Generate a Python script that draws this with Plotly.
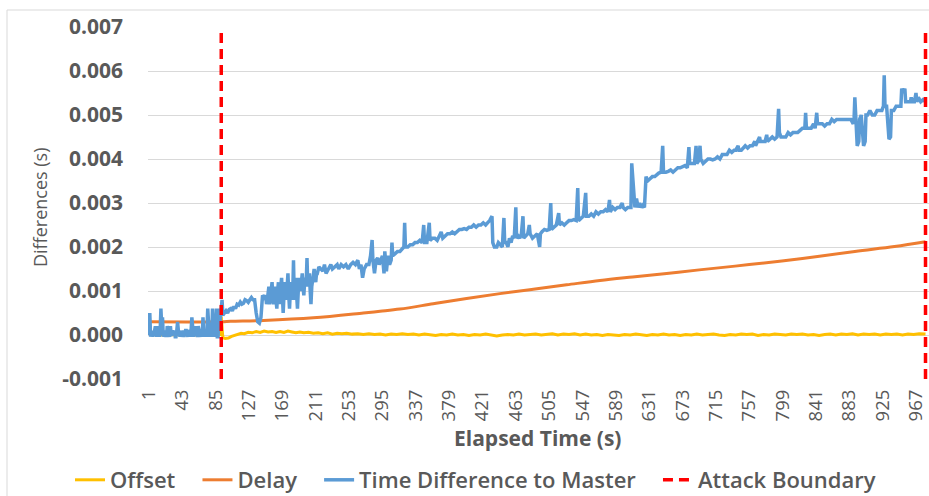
import plotly.graph_objects as go

# Elapsed-time categories shown on the horizontal axis
x_tick_values = [1, 43, 85, 127, 169, 211, 253, 295, 337, 379, 421, 463,
                 505, 547, 589, 631, 673, 715, 757, 799, 841, 883, 925, 967]
x_tick_labels = [str(v) for v in x_tick_values]

y_tick_values = [-0.001, 0.0, 0.001, 0.002, 0.003, 0.004, 0.005, 0.006, 0.007]
y_tick_labels = ["-0.001", "0.000", "0.001", "0.002", "0.003",
                 "0.004", "0.005", "0.006", "0.007"]

# Attack window: start and end sample
attack_bounds = [92, 979]

# Offset (s) per elapsed sample
offset_points = [
    (1, 0.00001), (20, 0.0), (40, 0.00001), (60, 0.0), (80, 0.00001), (91, 0.00001),
    (92, 0.00042), (93, 0.00025), (94, -0.00006), (97, -0.00008), (101, -0.00007),
    (105, -0.00003), (109, -0.00001), (113, 0.00002), (117, 0.00004), (121, 0.00003),
    (126, 0.00006), (131, 0.00005), (136, 0.00008), (141, 0.00006), (146, 0.00009),
    (151, 0.00007), (156, 0.00008), (161, 0.00006), (166, 0.00008), (171, 0.00006),
    (176, 0.00009), (181, 0.00007), (186, 0.00005), (191, 0.00007), (196, 0.00005),
    (202, 0.00006), (208, 0.00004), (214, 0.00005), (220, 0.00003), (226, 0.00005),
    (232, 0.00002), (238, 0.00004), (244, 0.00003), (250, 0.00004), (257, 0.00002),
    (264, 0.00003), (271, 0.00001), (278, 0.00003), (285, 0.00001), (292, 0.00002),
    (299, 0.0), (306, 0.00002), (313, 0.00001), (320, 0.00003), (327, 0.00001),
    (334, 0.00002), (341, 0.0), (348, 0.00002), (355, 0.00001), (362, -0.00001),
    (369, 0.00001), (376, 0.0), (383, 0.00002), (390, 0.0), (397, 0.00001),
    (404, -0.00001), (411, 0.00001), (418, 0.0), (425, 0.00002), (432, 0.0),
    (439, -0.00002), (446, 0.0), (453, 0.00001), (460, 0.0), (467, 0.00002),
    (474, 0.0), (481, 0.00001), (488, 0.00002), (495, 0.0), (502, 0.00001),
    (509, 0.00003), (516, 0.0), (523, 0.00002), (530, 0.00001), (537, 0.00003),
    (544, 0.0), (551, 0.00002), (558, 0.0), (565, 0.00001), (572, -0.00001),
    (579, 0.00001), (586, 0.0), (593, -0.00001), (600, 0.00001), (607, 0.0),
    (614, 0.00002), (621, 0.0), (628, -0.00001), (635, 0.00001), (642, 0.0),
    (649, 0.00002), (656, 0.0), (663, 0.00001), (670, -0.00001), (677, 0.00001),
    (684, 0.0), (691, 0.00002), (698, 0.0), (705, 0.00001), (712, 0.00002),
    (719, 0.0), (726, -0.00001), (733, 0.00001), (740, 0.0), (747, 0.00002),
    (754, 0.00001), (761, 0.00002), (768, -0.00001), (775, 0.00001), (782, 0.0),
    (789, 0.00002), (796, 0.00001), (803, 0.0), (810, 0.00002), (817, 0.00001),
    (824, 0.00002), (831, 0.0), (838, 0.00001), (845, -0.00001), (852, 0.00001),
    (859, 0.00002), (866, 0.0), (873, 0.00002), (880, 0.00001), (887, 0.00003),
    (894, 0.0), (901, 0.00002), (908, 0.00001), (915, 0.00002), (922, 0.0),
    (929, 0.00002), (936, 0.00001), (943, 0.00002), (950, 0.0), (957, 0.00002),
    (964, 0.00001), (971, 0.00003), (979, 0.00002),
]

# Delay (s) per elapsed sample
delay_points = [
    (1, 0.0003), (92, 0.0003), (104, 0.00031), (145, 0.00033), (208, 0.00039),
    (271, 0.0005), (292, 0.00054), (317, 0.00059), (359, 0.00071), (401, 0.00083),
    (443, 0.00094), (485, 0.00104), (527, 0.00114), (569, 0.00124), (610, 0.00132),
    (653, 0.0014), (694, 0.00148), (757, 0.0016), (824, 0.00174), (890, 0.0019),
    (940, 0.00201), (979, 0.00212),
]

# Time difference to master (s) per elapsed sample
time_diff_points = [
    (1, 0.0), (2, 0.0005), (3, -0.00004), (4, 0.00008), (5, -0.00004), (6, 0.0001),
    (7, -0.00002), (8, 0.0001), (9, 0.0002), (10, -0.00004), (11, 0.00008),
    (12, 0.0002), (13, 0.0001), (14, -0.00004), (15, 0.00006), (16, 0.0006),
    (17, 0.0002), (18, 0.0004), (19, -0.00004), (20, 0.00008), (21, 0.0001),
    (22, 0.00002), (23, -0.00004), (24, 0.0002), (25, 0.0001), (26, 0.00008),
    (27, -0.00004), (28, 0.0002), (29, -0.00002), (30, 0.00005), (31, 0.0001),
    (32, 0.00006), (33, 0.0001), (34, -0.00004), (35, -0.00004), (36, 0.0001),
    (37, 0.0003), (38, 0.0001), (39, 0.00008), (40, -0.00004), (41, 0.0001),
    (42, -0.00004), (43, 0.00008), (44, 0.0001), (45, -0.00004), (46, 0.00005),
    (47, 0.0001), (48, 0.0001), (49, -0.00002), (50, -0.00004), (51, 0.00008),
    (52, 0.0001), (53, -0.00004), (54, 0.0001), (55, 0.0004), (56, 0.0001),
    (57, -0.00004), (58, 0.0001), (59, 0.0002), (60, 0.0001), (61, -0.00004),
    (62, -0.00004), (63, 0.0002), (64, 0.0001), (65, 0.00006), (66, -0.00004),
    (67, 0.0001), (68, -0.00004), (69, 0.0004), (70, -0.00004), (71, 0.00008),
    (72, 0.0001), (73, -0.00004), (74, 0.0001), (75, 0.0006), (76, 0.0001),
    (77, -0.00004), (78, 0.00008), (79, 0.0002), (80, -0.00004), (81, 0.0006),
    (82, -0.00004), (83, 0.0001), (84, -0.00004), (85, 0.0003), (86, 0.0006),
    (87, -0.00004), (88, -0.00004), (89, 0.0006), (90, 0.0002), (91, 0.0004),
    (92, 0.0006), (93, 0.0008), (94, 0.00045), (96, 0.0005), (98, 0.00055),
    (100, 0.0005), (102, 0.00058), (104, 0.0006), (106, 0.00055), (108, 0.00065),
    (110, 0.0006), (112, 0.0007), (114, 0.00068), (116, 0.00075), (118, 0.0007),
    (120, 0.00072), (122, 0.0008), (124, 0.00078), (126, 0.00074), (128, 0.0008),
    (130, 0.00085), (132, 0.0008), (134, 0.0008), (136, 0.0005), (138, 0.0003),
    (140, 0.00027), (142, 0.0004), (144, 0.0009), (146, 0.00085), (148, 0.0009),
    (149, 0.0007), (150, 0.0008), (151, 0.001), (152, 0.0011), (153, 0.0007),
    (154, 0.0009), (155, 0.0011), (156, 0.0012), (157, 0.0008), (158, 0.0007),
    (159, 0.001), (160, 0.0011), (161, 0.0008), (162, 0.0006), (163, 0.001),
    (164, 0.0012), (165, 0.0007), (166, 0.0009), (167, 0.0011), (168, 0.0013),
    (169, 0.0009), (170, 0.0005), (171, 0.0009), (172, 0.0012), (173, 0.001),
    (174, 0.0008), (175, 0.0011), (176, 0.0014), (177, 0.0009), (178, 0.0006),
    (179, 0.001), (180, 0.0012), (181, 0.0008), (182, 0.0009), (183, 0.0017),
    (184, 0.0008), (185, 0.0011), (186, 0.0013), (187, 0.0009), (188, 0.0006),
    (189, 0.001), (190, 0.0013), (191, 0.0011), (192, 0.001), (193, 0.0012),
    (194, 0.0014), (195, 0.0011), (196, 0.0009), (197, 0.0012), (198, 0.0013),
    (199, 0.0012), (200, 0.00175), (201, 0.0011), (202, 0.0013), (203, 0.0014),
    (204, 0.001), (205, 0.0007), (206, 0.0011), (207, 0.0013), (208, 0.0014),
    (209, 0.0015), (210, 0.0013), (211, 0.0012), (212, 0.0014), (213, 0.0014),
    (215, 0.00155), (217, 0.0015), (220, 0.00145), (222, 0.0016), (224, 0.0014),
    (227, 0.0015), (230, 0.0016), (232, 0.0015), (235, 0.00155), (238, 0.0016),
    (240, 0.0015), (243, 0.0016), (246, 0.00155), (249, 0.0016), (252, 0.0015),
    (255, 0.0016), (258, 0.00165), (261, 0.0016), (264, 0.0017), (266, 0.0015),
    (268, 0.0016), (270, 0.0013), (272, 0.0015), (275, 0.0016), (278, 0.0016),
    (280, 0.0018), (282, 0.00216), (283, 0.0017), (285, 0.0014), (287, 0.0017),
    (289, 0.00175), (291, 0.0016), (293, 0.0017), (295, 0.0018), (297, 0.0014),
    (298, 0.0019), (300, 0.00145), (302, 0.0018), (304, 0.0016), (306, 0.0017),
    (307, 0.0021), (308, 0.0018), (311, 0.00185), (314, 0.0019), (317, 0.0019),
    (320, 0.00195), (322, 0.002), (323, 0.00255), (324, 0.002), (327, 0.002),
    (330, 0.00205), (333, 0.00205), (336, 0.0021), (339, 0.0021), (342, 0.00215),
    (345, 0.0021), (347, 0.0025), (348, 0.0021), (351, 0.0021), (354, 0.00255),
    (355, 0.00215), (358, 0.0022), (361, 0.0022), (364, 0.00215), (367, 0.00225),
    (369, 0.00234), (371, 0.0022), (374, 0.00225), (377, 0.0023), (380, 0.0023),
    (383, 0.00234), (386, 0.0023), (389, 0.00235), (392, 0.0024), (395, 0.0024),
    (398, 0.00242), (401, 0.0024), (404, 0.00245), (407, 0.00245), (410, 0.0025),
    (413, 0.00245), (416, 0.0025), (419, 0.0025), (422, 0.00255), (425, 0.0025),
    (428, 0.00255), (430, 0.0026), (433, 0.0027), (434, 0.0021), (436, 0.002),
    (439, 0.002), (441, 0.0021), (443, 0.00205), (446, 0.002), (448, 0.00266),
    (449, 0.0021), (451, 0.0021), (453, 0.002), (455, 0.0022), (457, 0.0021),
    (459, 0.00225), (461, 0.0022), (463, 0.0029), (464, 0.0022), (466, 0.00225),
    (468, 0.0022), (470, 0.0023), (472, 0.0027), (473, 0.0022), (475, 0.00225),
    (478, 0.0023), (480, 0.0025), (481, 0.0023), (484, 0.0022), (487, 0.00225),
    (490, 0.0023), (493, 0.002), (494, 0.0023), (496, 0.00235), (499, 0.0024),
    (502, 0.00238), (505, 0.0024), (507, 0.003), (508, 0.0024), (511, 0.00245),
    (514, 0.0025), (517, 0.00277), (518, 0.0025), (521, 0.00255), (524, 0.0025),
    (527, 0.00255), (530, 0.0026), (533, 0.0026), (536, 0.00262), (539, 0.0026),
    (541, 0.00334), (542, 0.0026), (545, 0.00265), (548, 0.0027), (551, 0.00323),
    (552, 0.0027), (555, 0.0027), (558, 0.00275), (561, 0.0027), (564, 0.0028),
    (567, 0.00275), (570, 0.0028), (573, 0.0028), (576, 0.00285), (579, 0.0028),
    (581, 0.00307), (582, 0.0028), (585, 0.0029), (588, 0.00285), (591, 0.0029),
    (594, 0.0029), (597, 0.003), (598, 0.0029), (601, 0.00285), (604, 0.0029),
    (606, 0.0029), (608, 0.0029), (609, 0.0039), (610, 0.0036), (611, 0.0035),
    (613, 0.0029), (615, 0.0031), (617, 0.0029), (619, 0.003), (621, 0.0029),
    (623, 0.00295), (625, 0.0029), (627, 0.0036), (629, 0.0035), (632, 0.00355),
    (635, 0.0036), (638, 0.0036), (641, 0.00365), (643, 0.00368), (646, 0.0037),
    (648, 0.0043), (649, 0.0037), (652, 0.0037), (655, 0.00372), (658, 0.00375),
    (661, 0.0037), (664, 0.00375), (667, 0.0038), (670, 0.0038), (673, 0.00382),
    (676, 0.00385), (679, 0.0038), (681, 0.00427), (682, 0.0039), (685, 0.0039),
    (688, 0.0039), (690, 0.0043), (691, 0.0039), (693, 0.00395), (695, 0.0043),
    (696, 0.004), (699, 0.0039), (702, 0.00395), (705, 0.004), (708, 0.004),
    (711, 0.00398), (714, 0.004), (717, 0.00405), (720, 0.004), (723, 0.0041),
    (726, 0.0041), (729, 0.0041), (732, 0.0042), (735, 0.00415), (738, 0.0042),
    (740, 0.0042), (743, 0.0043), (744, 0.0042), (747, 0.0042), (750, 0.00425),
    (752, 0.0043), (755, 0.00425), (758, 0.0043), (761, 0.0043), (764, 0.0044),
    (765, 0.0043), (768, 0.0044), (770, 0.0045), (771, 0.0044), (774, 0.0044),
    (777, 0.0044), (779, 0.00455), (780, 0.0044), (783, 0.00445), (786, 0.0045),
    (789, 0.00445), (792, 0.0045), (794, 0.00514), (795, 0.0046), (797, 0.0045),
    (800, 0.0045), (803, 0.0045), (806, 0.0046), (809, 0.00455), (812, 0.0046),
    (815, 0.0046), (818, 0.0046), (821, 0.00465), (824, 0.0047), (827, 0.0047),
    (828, 0.00505), (829, 0.0047), (832, 0.0047), (835, 0.0047), (838, 0.0048),
    (840, 0.0047), (842, 0.00505), (843, 0.0048), (846, 0.0048), (849, 0.0048),
    (852, 0.00475), (855, 0.0048), (858, 0.0048), (861, 0.0049), (864, 0.00485),
    (867, 0.0049), (870, 0.0049), (873, 0.0049), (876, 0.0049), (879, 0.0049),
    (882, 0.0049), (885, 0.0049), (888, 0.0048), (889, 0.0049), (890, 0.0054),
    (891, 0.0049), (893, 0.0043), (895, 0.0044), (896, 0.0049), (898, 0.005),
    (901, 0.0043), (903, 0.0044), (904, 0.005), (906, 0.005), (909, 0.0051),
    (912, 0.005), (915, 0.005), (918, 0.0051), (921, 0.0051), (924, 0.0051),
    (926, 0.0052), (927, 0.0059), (928, 0.0052), (930, 0.0052), (932, 0.0047),
    (933, 0.00445), (935, 0.0045), (936, 0.0051), (939, 0.0051), (942, 0.0052),
    (945, 0.0052), (948, 0.0052), (949, 0.0056), (951, 0.0055), (953, 0.0056),
    (954, 0.0053), (957, 0.0053), (960, 0.0053), (961, 0.0054), (962, 0.0053),
    (965, 0.0053), (967, 0.0055), (968, 0.0053), (970, 0.0054), (973, 0.0053),
    (976, 0.00535), (979, 0.0053),
]

TEXT_GREY = "#595959"
FONT = "Open Sans"
PAD = "\u00a0" * 3  # spacing after each legend entry

fig = go.Figure()

def add_series(points, name, color, width, shape="linear"):
    xs = [p[0] for p in points]
    ys = [p[1] for p in points]
    fig.add_trace(go.Scatter(x=xs, y=ys, mode="lines", name=name + PAD,
                             line=dict(color=color, width=width, shape=shape)))

add_series(offset_points, "Offset", "#FFC000", 3)
add_series(delay_points, "Delay", "#ED7D31", 3, shape="spline")
add_series(time_diff_points, "Time Difference to Master", "#5B9BD5", 3.5)

for i, xb in enumerate(attack_bounds):
    fig.add_trace(go.Scatter(
        x=[xb, xb], y=[y_tick_values[0], y_tick_values[-1]], mode="lines",
        name="Attack Boundary", legendgroup="attack", showlegend=(i == 0),
        line=dict(color="#FF0000", width=3.5, dash="10px,6px")))

fig.update_layout(
    width=929, height=496,
    margin=dict(l=148, r=0, t=27, b=117, autoexpand=False),
    paper_bgcolor="white", plot_bgcolor="white",
    font=dict(family=FONT, color=TEXT_GREY),
    showlegend=True,
    legend=dict(orientation="h", x=(70 - 148) / 781, xanchor="left",
                y=(379 - 480) / 352, yanchor="middle",
                font=dict(size=22, color=TEXT_GREY, family=FONT, weight=600),
                itemwidth=30, tracegroupgap=0, bgcolor="rgba(0,0,0,0)"),
    xaxis=dict(range=[-0.26, 983.4], tickvals=x_tick_values, ticktext=x_tick_labels,
               tickangle=-90, tickfont=dict(size=18.5, color=TEXT_GREY, family=FONT),
               showgrid=False, zeroline=False, showline=False, ticks="",
               ticklabelstandoff=6, automargin=False),
    yaxis=dict(range=[-0.001, 0.007], tickvals=y_tick_values, ticktext=y_tick_labels,
               tickfont=dict(size=21, color=TEXT_GREY, family=FONT, weight="bold"),
               showgrid=True, gridcolor="#D9D9D9", gridwidth=1,
               zeroline=False, showline=False, ticks="", ticklabelstandoff=24,
               automargin=False),
    annotations=[
        dict(text="Elapsed Time (s)", xref="paper", yref="paper",
             x=(537 - 148) / 781, y=(379 - 438) / 352, showarrow=False,
             xanchor="center", yanchor="middle",
             font=dict(size=21, color=TEXT_GREY, family=FONT, weight="bold")),
        dict(text="Differences (s)", xref="paper", yref="paper",
             x=(40 - 148) / 781, y=(379 - 207) / 352, showarrow=False, textangle=-90,
             xanchor="center", yanchor="middle",
             font=dict(size=18, color=TEXT_GREY, family=FONT)),
    ],
    shapes=[dict(type="rect", xref="paper", yref="paper",
                 x0=(7 - 148) / 781, x1=1.02, y0=(379 - 520) / 352, y1=(379 - 10) / 352,
                 line=dict(color="#D9D9D9", width=1), fillcolor="rgba(0,0,0,0)",
                 layer="below")],
)

fig.write_html("out.html")
